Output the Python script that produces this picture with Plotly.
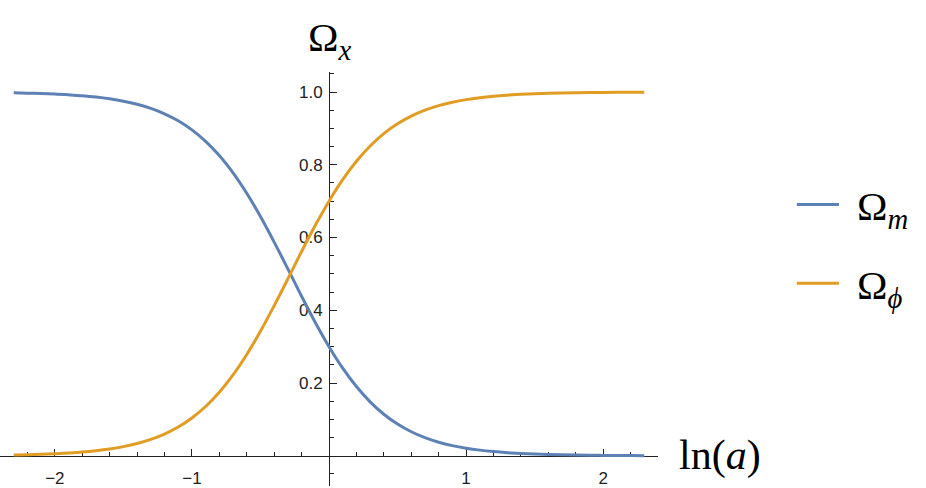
import plotly.graph_objects as go

# ln(a) sample points
ln_a = [-2.3, -2.2, -2.1, -2.0, -1.9, -1.8, -1.7, -1.6, -1.5, -1.4, -1.3, -1.2,
        -1.1, -1.0, -0.9, -0.8, -0.7, -0.6, -0.5, -0.4, -0.3, -0.2, -0.1, 0.0,
        0.1, 0.2, 0.3, 0.4, 0.5, 0.6, 0.7, 0.8, 0.9, 1.0, 1.1, 1.2, 1.3, 1.4,
        1.5, 1.6, 1.7, 1.8, 1.9, 2.0, 2.1, 2.2, 2.3]

omega_m = [0.9977, 0.9968, 0.9957, 0.9943, 0.9922, 0.9896, 0.9860, 0.9812,
           0.9747, 0.9662, 0.9549, 0.9401, 0.9208, 0.8959, 0.8645, 0.8253,
           0.7778, 0.7217, 0.6576, 0.5873, 0.5137, 0.4385, 0.3665, 0.3000,
           0.2410, 0.1904, 0.1484, 0.1143, 0.0873, 0.0662, 0.0499, 0.0374,
           0.0280, 0.0209, 0.0156, 0.0116, 0.0086, 0.0064, 0.0047, 0.0035,
           0.0026, 0.0019, 0.0014, 0.0011, 0.0008, 0.0006, 0.0004]

omega_phi = [0.0023, 0.0032, 0.0043, 0.0057, 0.0078, 0.0104, 0.0140, 0.0188,
             0.0253, 0.0338, 0.0451, 0.0599, 0.0792, 0.1041, 0.1355, 0.1747,
             0.2222, 0.2783, 0.3424, 0.4127, 0.4863, 0.5615, 0.6335, 0.7000,
             0.7590, 0.8096, 0.8516, 0.8857, 0.9127, 0.9338, 0.9501, 0.9626,
             0.9720, 0.9791, 0.9844, 0.9884, 0.9914, 0.9936, 0.9953, 0.9965,
             0.9974, 0.9981, 0.9986, 0.9989, 0.9992, 0.9994, 0.9996]

x_tick_vals = [-2, -1, 1, 2]
x_tick_text = ["\u22122", "\u22121", "1", "2"]
x_minor_vals = [-2.2, -1.8, -1.6, -1.4, -1.2, -0.8, -0.6, -0.4, -0.2,
                0.2, 0.4, 0.6, 0.8, 1.2, 1.4, 1.6, 1.8, 2.2]
y_tick_vals = [0.2, 0.4, 0.6, 0.8, 1.0]
y_tick_text = ["0.2", "0.4", "0.6", "0.8", "1.0"]
y_minor_vals = [-0.05, 0.05, 0.1, 0.15, 0.25, 0.3, 0.35, 0.45, 0.5, 0.55,
                0.65, 0.7, 0.75, 0.85, 0.9, 0.95, 1.05]

BLUE = "#5E81B5"
ORANGE = "#E19C24"
AXIS = "#222222"

X_RANGE = [-2.4, 2.4]
Y_RANGE = [-0.083, 1.055]

fig = go.Figure()
fig.add_trace(go.Scatter(x=ln_a, y=omega_m, mode="lines", name="\u03a9<sub><i>m</i></sub>",
                         line=dict(color=BLUE, width=3, shape="spline"), showlegend=False))
fig.add_trace(go.Scatter(x=ln_a, y=omega_phi, mode="lines", name="\u03a9<sub><i>\u03d5</i></sub>",
                         line=dict(color=ORANGE, width=3, shape="spline"), showlegend=False))

x_pos = (0 - Y_RANGE[0]) / (Y_RANGE[1] - Y_RANGE[0])
tickfont = dict(family="Liberation Sans, Arial, sans-serif", size=17, color=AXIS)

fig.update_layout(
    width=926, height=488,
    margin=dict(l=0, r=268, t=72, b=0, pad=0),
    plot_bgcolor="white", paper_bgcolor="white",
    xaxis=dict(range=X_RANGE, domain=[0, 1], anchor="free", position=x_pos,
               showline=True, linecolor=AXIS, linewidth=1, layer="below traces",
               showgrid=False, zeroline=False,
               ticks="inside", ticklen=7, tickwidth=1, tickcolor=AXIS,
               tickvals=x_tick_vals, ticktext=x_tick_text,
               minor=dict(tickvals=x_minor_vals, ticks="inside", ticklen=4,
                          tickwidth=1, tickcolor=AXIS, showgrid=False),
               tickfont=tickfont, ticklabelstandoff=7),
    yaxis=dict(range=Y_RANGE, domain=[0, 1], anchor="free", position=0.5, side="left",
               showline=True, linecolor=AXIS, linewidth=1, layer="below traces",
               showgrid=False, zeroline=False,
               ticks="inside", ticklen=7, tickwidth=1, tickcolor=AXIS,
               tickvals=y_tick_vals, ticktext=y_tick_text,
               minor=dict(tickvals=y_minor_vals, ticks="inside", ticklen=4,
                          tickwidth=1, tickcolor=AXIS, showgrid=False),
               tickfont=tickfont, ticklabelstandoff=3),
)

serif = "Liberation Serif, Times New Roman, serif"
fig.add_annotation(x=0, xref="x", y=1.077, yref="paper", text="\u03a9<sub><i>x</i></sub>",
                   showarrow=False, xanchor="center", yanchor="middle",
                   font=dict(family=serif, size=41, color="black"))
fig.add_annotation(x=1.029, xref="paper", y=0, yref="y", text="ln(<i>a</i>)",
                   showarrow=False, xanchor="left", yanchor="middle",
                   font=dict(family=serif, size=42, color="black"))

# legend
legend_items = [("\u03a9<sub><i>m</i></sub>", BLUE, 0.680),
                ("\u03a9<sub><i>\u03d5</i></sub>", ORANGE, 0.490)]
for label, col, yy in legend_items:
    fig.add_shape(type="line", xref="paper", yref="paper", x0=1.211, x1=1.275, y0=yy, y1=yy,
                  line=dict(color=col, width=3))
    fig.add_annotation(x=1.2994, xref="paper", y=yy - 0.012, yref="paper", text=label,
                       showarrow=False, xanchor="left", yanchor="middle",
                       font=dict(family=serif, size=41, color="black"))

fig.write_html("out.html", config={"displayModeBar": False},
               post_script="document.body.style.margin='0';document.body.style.overflow='hidden';")
